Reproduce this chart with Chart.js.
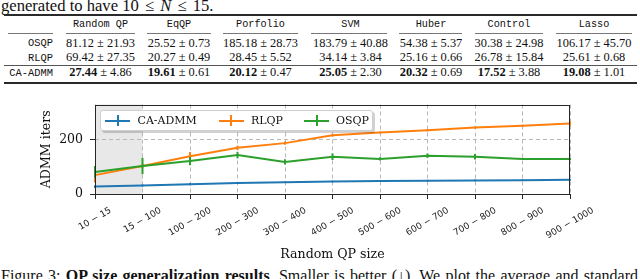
<!DOCTYPE html>
<html><head><meta charset="utf-8">
<script src="https://cdn.jsdelivr.net/npm/chart.js@4.4.1/dist/chart.umd.min.js"></script>
<style>
html,body{margin:0;padding:0;background:#fff;}
body{width:640px;height:279px;overflow:hidden;position:relative;}
.t{position:absolute;white-space:nowrap;color:#111;}
.serif{font-family:"Liberation Serif","Times New Roman",serif;}
.mono{font-family:"Liberation Mono","DejaVu Sans Mono",monospace;}
.rule{position:absolute;background:#2a2a2a;}
#chartWrap{position:absolute;left:0;top:90px;width:640px;height:180px;}
#legend{position:absolute;left:100px;top:110px;width:273px;height:21px;border:1px solid #cfcfcf;border-radius:3px;background:#fff;box-shadow:2px 2px 0 rgba(0,0,0,0.18);box-sizing:border-box;}
.lg{position:absolute;font-family:"DejaVu Serif",serif;font-size:11px;color:#111;line-height:14px;white-space:nowrap;}
.sw{position:absolute;height:2px;}
.tk{position:absolute;width:2px;height:11px;}
</style>
</head><body>
<div id="page"></div>
<div id="chartWrap"><canvas id="c" width="640" height="180"></canvas></div>
<div id="legend"></div>
<script>
// ---------------- data ----------------
const categories = ['10 − 15','15 − 100','100 − 200','200 − 300','300 − 400','400 − 500','500 − 600','600 − 700','700 − 800','800 − 900','900 − 1000'];
const seriesNames = ['CA-ADMM','RLQP','OSQP'];
const caAdmmMean = [27.4, 31, 36, 40, 43, 46, 48, 49, 50, 51, 52];
const caAdmmStd  = [5, 4, 4, 3, 3, 3, 3, 3, 3, 3, 3];
const rlqpMean   = [69.4, 103, 139, 170, 187, 216, 226, 234, 244, 251, 259];
const rlqpStd    = [27, 8, 15, 8, 6, 5, 4, 4, 4, 4, 8];
const osqpMean   = [81.1, 103, 121, 143, 118, 137, 129, 141, 137, 129, 129];
const osqpStd    = [22, 30, 15, 12, 10, 12, 6, 8, 10, 4, 4];
const yTicks = [0, 200];

const tableHeaders = ['Random QP','EqQP','Porfolio','SVM','Huber','Control','Lasso'];
const tableRows = ['OSQP','RLQP','CA-ADMM'];
const osqpTable = ['81.12 ± 21.93','25.52 ± 0.73','185.18 ± 28.73','183.79 ± 40.88','54.38 ± 5.37','30.38 ± 24.98','106.17 ± 45.70'];
const rlqpTable = ['69.42 ± 27.35','20.27 ± 0.49','28.45 ± 5.52','34.14 ± 3.84','25.16 ± 0.66','26.78 ± 15.84','25.61 ± 0.68'];
const caTable   = ['27.44 ± 4.86','19.61 ± 0.61','20.12 ± 0.47','25.05 ± 2.30','20.32 ± 0.69','17.52 ± 3.88','19.08 ± 1.01'];

// ---------------- page text / table ----------------
const page = document.getElementById('page');
function add(html, cls, style){ const d=document.createElement('div'); d.className='t '+cls; d.innerHTML=html; Object.assign(d.style, style); page.appendChild(d); return d; }
function rule(x0,x1,y,h,col){ const d=document.createElement('div'); d.className='rule'; Object.assign(d.style,{left:x0+'px',top:y+'px',width:(x1-x0)+'px',height:h+'px',background:col||'#2a2a2a'}); page.appendChild(d); }

add('generated to have 10 <span style="margin:0 2px">≤</span> <i>N</i> <span style="margin:0 2px">≤</span> 15.', 'serif', {left:'1px',top:'-3.5px',fontSize:'16.6px',lineHeight:'18px'});

const colCenters = [100.5,179,260.5,350.5,431,509,594];
const cmid = [[8,53],[66,135],[147,211],[223,298],[311,387],[399,462],[475,543],[556,632]];
rule(4,637,14,1.5);
cmid.forEach(c=>rule(c[0],c[1],33.3,0.8,'#777'));
rule(4,637,64.5,0.8,'#555');
rule(4,637,82.3,1.5);

tableHeaders.forEach((h,i)=>add(h,'mono',{left:colCenters[i]+'px',top:(25-6.6)+'px',fontSize:'10.2px',lineHeight:'14px',transform:'translateX(-50%)'}));
const rowY = [42.7,57.3,72.3];
tableRows.forEach((r,i)=>add(r,'mono',{right:(640-53)+'px',top:(rowY[i]-6.6)+'px',fontSize:'10.4px',lineHeight:'14px'}));
[osqpTable,rlqpTable,caTable].forEach((row,ri)=>{
  row.forEach((v,ci)=>{
    let html = v;
    if(ri===2){ const p=v.split(' ± '); html='<b>'+p[0]+'</b> ± '+p[1]; }
    add(html,'serif',{left:colCenters[ci]+'px',top:(rowY[ri]-7)+'px',fontSize:'12.4px',lineHeight:'14px',transform:'translateX(-50%)'});
  });
});

const cap = add('Figure 3: <b>QP size generalization results</b>. Smaller is better (↓). We plot the average and standard','serif',{left:'1px',top:'266.5px',fontSize:'16px',lineHeight:'18px'});
(function(){ const n=(cap.textContent.match(/ /g)||[]).length; const w=cap.getBoundingClientRect().width; const ws=(637-w)/n; cap.style.wordSpacing=ws+'px'; })();

// ---------------- legend (HTML) ----------------
const colors = ['#1f77b4','#ff7f0e','#2ca02c'];
const legend = document.getElementById('legend');
const swX = [104,217.5,303], txX=[136.5,250,335];
seriesNames.forEach((n,i)=>{
  const s=document.createElement('div'); s.className='sw'; Object.assign(s.style,{left:(swX[i]-100)+'px',width:'25px',top:'8.5px',background:colors[i]}); legend.appendChild(s);
  const k=document.createElement('div'); k.className='tk'; Object.assign(k.style,{left:(swX[i]-100+11.5)+'px',top:'4px',background:colors[i]}); legend.appendChild(k);
  const t=document.createElement('div'); t.className='lg'; t.textContent=n; Object.assign(t.style,{left:(txX[i]-100)+'px',top:'2.5px'}); legend.appendChild(t);
});

// ---------------- chart ----------------
const means=[caAdmmMean,rlqpMean,osqpMean], stds=[caAdmmStd,rlqpStd,osqpStd];

const shade = {id:'shade', beforeDraw(chart){
  const {ctx, chartArea:a, scales:{x}} = chart;
  const x0=x.getPixelForValue(0), x1=x.getPixelForValue(1);
  ctx.save(); ctx.fillStyle='#e8e8e8'; ctx.fillRect(x0,a.top,x1-x0,a.bottom-a.top); ctx.restore();
}};
const errbars = {id:'errbars', afterDatasetDraw(chart,args){
  const i=args.index, {ctx, scales:{x,y}}=chart;
  ctx.save(); ctx.strokeStyle=colors[i]; ctx.lineWidth=2;
  means[i].forEach((m,j)=>{
    const px=x.getPixelForValue(j);
    ctx.beginPath(); ctx.moveTo(px,y.getPixelForValue(m-stds[i][j])); ctx.lineTo(px,y.getPixelForValue(m+stds[i][j])); ctx.stroke();
  });
  ctx.restore();
}};
const frame = {id:'frame', afterDraw(chart){
  const {ctx, chartArea:a, scales:{x}} = chart;
  ctx.save(); ctx.strokeStyle='#262626'; ctx.lineWidth=1;
  ctx.strokeRect(Math.round(a.left)+0.5, Math.round(a.top)+0.5, Math.round(a.right-a.left)-1, Math.round(a.bottom-a.top)-1);
  // rotated x tick labels, centred on tick like matplotlib
  ctx.fillStyle='#222'; ctx.font='9px "DejaVu Sans"';
  const ang=30*Math.PI/180, h=9;
  categories.forEach((lab,i)=>{
    const px=x.getPixelForValue(i); const L=ctx.measureText(lab).width;
    const bh=L*Math.sin(ang)+h*Math.cos(ang);
    const cy=a.bottom+12+bh/2;
    ctx.save(); ctx.translate(px,cy); ctx.rotate(-ang); ctx.textAlign='center'; ctx.textBaseline='middle'; ctx.fillText(lab,0,0); ctx.restore();
  });
  ctx.restore();
}};

new Chart(document.getElementById('c'), {
  type:'line',
  data:{ labels:categories, datasets: seriesNames.map((n,i)=>({label:n, data:means[i], borderColor:colors[i], backgroundColor:colors[i], borderWidth:2, pointRadius:0, tension:0, order:2-i})) },
  options:{
    responsive:false, animation:false, devicePixelRatio:1,
    layout:{padding:{left:35,right:70,top:14,bottom:0}},
    plugins:{legend:{display:false}, tooltip:{enabled:false}},
    scales:{
      x:{type:'category', offset:false,
        grid:{color:'#b8b8b8', lineWidth:1, drawTicks:true, tickLength:5, tickColor:'#262626', tickBorderDash:[], offset:false},
        border:{display:false, dash:[4,3]},
        ticks:{display:false, autoSkip:false},
        title:{display:true, text:'Random QP size', font:{family:'DejaVu Serif', size:12.6}, color:'#111', padding:{top:0,bottom:8}},
        afterFit(s){ s.height=76; }
      },
      y:{min:0, max:329,
        afterBuildTicks(s){ s.ticks = yTicks.map(v=>({value:v})); },
        grid:{color:'#b8b8b8', lineWidth:1, drawTicks:true, tickLength:5, tickColor:'#262626', tickBorderDash:[]},
        border:{display:false, dash:[4,3]},
        ticks:{font:{family:'DejaVu Serif', size:12.5}, color:'#111', padding:7},
        title:{display:true, text:'ADMM iters', font:{family:'DejaVu Serif', size:12.6}, color:'#111', padding:{top:4,bottom:4}},
        afterFit(s){ s.width=60; }
      }
    }
  },
  plugins:[shade, errbars, frame]
});
</script>
</body></html>
